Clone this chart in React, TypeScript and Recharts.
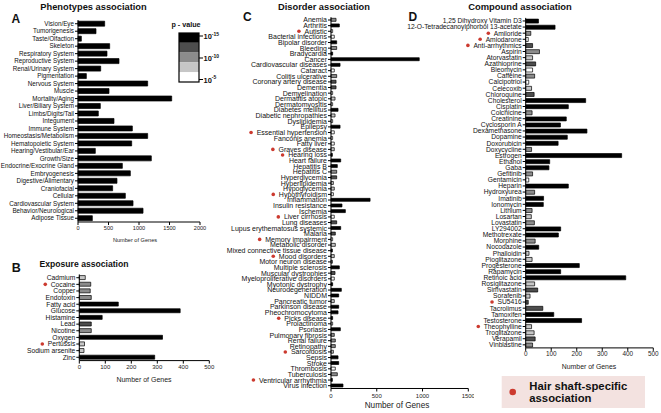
import React from 'react';
import { BarChart, Bar, XAxis, YAxis, Cell } from 'recharts';

// p-value bins: 0 = 1e-15 (black) ... 4 = 1e-5 (white)
const PALETTE = ['#000000', '#4d4d4d', '#8c8c8c', '#c6c6c6', '#ffffff'];
const DOT = '#cc3a2f';
const FONT = '"Liberation Sans", Arial, sans-serif';

const phenoNames = ['Vision/Eye', 'Tumorigenesis', 'Taste/Olfaction', 'Skeleton', 'Respiratory System', 'Reproductive System',
  'Renal/Urinary System', 'Pigmentation', 'Nervous System', 'Muscle', 'Mortality/Aging', 'Liver/Biliary System',
  'Limbs/Digits/Tail', 'Integument', 'Immune System', 'Homeostasis/Metabolism', 'Hematopoietic System',
  'Hearing/Vestibular/Ear', 'Growth/Size', 'Endocrine/Exocrine Gland', 'Embryogenesis', 'Digestive/Alimentary',
  'Craniofacial', 'Cellular', 'Cardiovascular System', 'Behavior/Neurological', 'Adipose Tissue'];
const phenoGenes = [437, 295, 55, 519, 475, 672, 372, 137, 1142, 508, 1536, 366, 333, 590, 891, 1142, 880, 284, 1202, 727, 858, 639, 568, 776, 902, 1066, 235];
const phenoLevels = phenoNames.map(() => 0);
const phenoTicks = [0, 500, 1000, 1500, 2000];

const expoNames = ['Cadmium', 'Cocaine', 'Copper', 'Endotoxin', 'Fatty acid', 'Glucose', 'Histamine', 'Lead', 'Nicotine',
  'Oxygen', 'Pertussis', 'Sodium arsenite', 'Zinc'];
const expoGenes = [23, 44, 42, 46, 150, 388, 88, 46, 46, 320, 20, 18, 290];
const expoLevels = [3, 2, 2, 2, 0, 0, 0, 1, 2, 0, 3, 3, 0];
const expoHair = ['Cocaine', 'Pertussis'];
const expoTicks = [0, 100, 200, 300, 400, 500];

const disNames = ['Anemia', 'Arthritis', 'Autistic', 'Bacterial infections', 'Bipolar disorder', 'Bleeding', 'Bradycardia',
  'Cancer', 'Cardiovascular diseases', 'Cataract', 'Colitis ulcerative', 'Coronary artery disease', 'Dementia',
  'Demyelination', 'Dermatitis atopic', 'Dermatomyositis', 'Diabetes mellitus', 'Diabetic nephropathies', 'Dyslipidemia',
  'Epilepsy', 'Essential hypertension', 'Fanconis anemia', 'Fatty liver', 'Graves disease', 'Hearing loss',
  'Heart failure', 'Hepatitis B', 'Hepatitis C', 'Hyperglycemia', 'Hyperlipidemia', 'Hypoglycemia', 'Hypothyroidism',
  'Inflammation', 'Insulin resistance', 'Ischemia', 'Liver cirrhosis', 'Lung diseases', 'Lupus erythematosus systemic',
  'Malaria', 'Memory impairment', 'Metabolic disorder', 'Mixed connective tissue disease', 'Mood disorders',
  'Motor neuron disease', 'Multiple sclerosis', 'Muscular dystrophies', 'Myeloproliferative disorders',
  'Myotonic dystrophy', 'Neurodegeneration', 'NIDDM', 'Pancreatic tumor', 'Parkinson disease', 'Pheochromocytoma',
  'Picks disease', 'Prolactinoma', 'Psoriasis', 'Pulmonary fibrosis', 'Renal failure', 'Retinopathy', 'Sarcoidosis',
  'Sepsis', 'Stroke', 'Thrombosis', 'Tuberculosis', 'Ventricular arrhythmia', 'Virus infection'];
const disGenes = [55, 91, 18, 36, 62, 62, 18, 964, 99, 36, 62, 55, 55, 18, 44, 18, 77, 44, 18, 99, 36, 18, 36, 36, 15,
  106, 69, 62, 62, 26, 36, 26, 427, 120, 157, 36, 62, 106, 47, 18, 47, 15, 36, 15, 91, 44, 36, 18, 113, 84, 36, 84, 77,
  18, 18, 102, 36, 47, 47, 26, 77, 84, 47, 69, 15, 131];
const disLevels = [2, 0, 4, 4, 0, 2, 0, 0, 0, 4, 2, 1, 1, 4, 3, 4, 0, 3, 4, 0, 4, 4, 4, 3, 0, 0, 0, 2, 1, 3, 3, 4, 0, 0,
  0, 4, 1, 0, 1, 4, 3, 0, 3, 2, 0, 1, 4, 0, 0, 0, 3, 0, 0, 0, 4, 0, 2, 2, 2, 3, 0, 0, 4, 2, 0, 0];
const disHair = ['Autistic', 'Essential hypertension', 'Graves disease', 'Hearing loss', 'Hypothyroidism', 'Liver cirrhosis',
  'Memory impairment', 'Mood disorders', 'Picks disease', 'Sarcoidosis', 'Ventricular arrhythmia'];
const disTicks = [0, 500, 1000, 1500];

const compNames = ['1,25 Dihydroxy Vitamin D3', '12-O-Tetradecanoylphorbol 13-acetate', 'Amiloride', 'Amiodarone',
  'Anti-arrhythmics', 'Aspirin', 'Atorvastatin', 'Azathioprine', 'Bleomycin', 'Caffeine', 'Calcipotriol', 'Celecoxib',
  'Chloroquine', 'Cholesterol', 'Cisplatin', 'Colchicine', 'Creatinine', 'Cyclosporin A', 'Dexamethasone', 'Dopamine',
  'Doxorubicin', 'Doxycycline', 'Estrogen', 'Ethanol', 'Gaba', 'Gefitinib', 'Gentamicin', 'Heparin', 'Hydroxyurea',
  'Imatinib', 'Ionomycin', 'Lithium', 'Losartan', 'Lovastatin', 'LY294002', 'Methotrexate', 'Morphine', 'Nocodazole',
  'Phalloidin', 'Pioglitazone', 'Progesterone', 'Rapamycin', 'Retinoic acid', 'Rosiglitazone', 'Simvastatin',
  'Sorafenib', 'SU5416', 'Tacrolimus', 'Tamoxifen', 'Testosterone', 'Theophylline', 'Troglitazone', 'Verapamil',
  'Vinblastine'];
const compGenes = [50, 115, 20, 10, 27, 54, 27, 39, 27, 35, 12, 23, 33, 235, 167, 25, 159, 136, 240, 163, 127, 23, 376,
  94, 91, 27, 12, 167, 35, 70, 69, 25, 22, 34, 137, 128, 37, 51, 13, 25, 210, 137, 392, 35, 47, 17, 10, 67, 110, 219,
  23, 33, 37, 27];
const compLevels = [0, 0, 2, 4, 1, 2, 3, 1, 4, 2, 4, 3, 1, 0, 0, 2, 0, 0, 0, 0, 0, 2, 0, 0, 0, 2, 4, 0, 2, 0, 0, 2, 3, 2,
  0, 0, 2, 0, 3, 3, 0, 0, 0, 3, 1, 3, 1, 1, 0, 0, 3, 3, 1, 2];
const compHair = ['Amiloride', 'Amiodarone', 'Anti-arrhythmics', 'SU5416', 'Theophylline'];
const compTicks = [0, 100, 200, 300, 400, 500];

let ctx: CanvasRenderingContext2D | null = null;
function textWidth(s: string, size: number) {
  if (!ctx) ctx = document.createElement('canvas').getContext('2d');
  if (!ctx) return s.length * size * 0.5;
  ctx.font = `${size}px "Liberation Sans"`;
  return ctx.measureText(s).width;
}

function CatTick({ x, y, payload, size, hair }: any) {
  const label = payload.value;
  const marked = hair && hair.includes(label);
  return (
    <g>
      <text x={x} y={y} dy="0.35em" textAnchor="end" fontSize={size} fill="#111" fontFamily={FONT}>{label}</text>
      {marked && <circle cx={x - textWidth(label, size) - 5.5} cy={y} r={1.8} fill={DOT} />}
    </g>
  );
}

function Panel(props: any) {
  const { left, top, width, height, margin, yWidth, xHeight, names, genes, levels, hair, max, ticks,
    labelSize, tickFont, tickGap, gap } = props;
  const data = names.map((name: string, i: number) => ({ name, genes: genes[i], level: levels[i] }));
  return (
    <div style={{ position: 'absolute', left, top }}>
      <BarChart width={width} height={height} layout="vertical" data={data} margin={margin} barCategoryGap={gap}>
        <XAxis type="number" domain={[0, max]} ticks={ticks} interval={0} height={xHeight} tickSize={3} tickMargin={tickGap}
          axisLine={{ stroke: '#000' }} tickLine={{ stroke: '#000' }}
          tick={{ fontSize: tickFont, fill: '#222', fontFamily: FONT }} />
        <YAxis type="category" dataKey="name" width={yWidth} interval={0} tickSize={3} tickMargin={1}
          axisLine={{ stroke: '#000' }} tickLine={{ stroke: '#000' }}
          tick={(p: any) => <CatTick {...p} size={labelSize} hair={hair} />} />
        <Bar dataKey="genes" isAnimationActive={false} stroke="#000" strokeWidth={0.7}>
          {data.map((d: any, i: number) => <Cell key={i} fill={PALETTE[d.level]} />)}
        </Bar>
      </BarChart>
    </div>
  );
}

export default function App() {
  return (
    <div style={{ position: 'absolute', left: 0, top: 0, width: 661, height: 413, background: '#fff', overflow: 'hidden' }}>
      <Panel left={0} top={0} width={210} height={240} margin={{ top: 20, right: 10, left: 0, bottom: 0 }}
        yWidth={78} xHeight={18} names={phenoNames} genes={phenoGenes} levels={phenoLevels} hair={[]}
        max={2000} ticks={phenoTicks} labelSize={6.3} tickFont={5.6} tickGap={1} gap="16%" />
      <Panel left={0} top={255} width={215} height={124} margin={{ top: 19.4, right: 5.7, left: 0, bottom: 0 }}
        yWidth={79.3} xHeight={18.4} names={expoNames} genes={expoGenes} levels={expoLevels} hair={expoHair}
        max={500} ticks={expoTicks} labelSize={6.7} tickFont={6} tickGap={1.5} gap="18%" />
      <Panel left={205} top={0} width={269.3} height={402.5} margin={{ top: 17.2, right: 6, left: 0, bottom: 0 }}
        yWidth={126} xHeight={14} names={disNames} genes={disGenes} levels={disLevels} hair={disHair}
        max={1500} ticks={disTicks} labelSize={7} tickFont={6} tickGap={2} gap="20%" />
      <Panel left={400} top={0} width={261} height={361.9} margin={{ top: 17.9, right: 7.7, left: 0, bottom: 0 }}
        yWidth={125.7} xHeight={14} names={compNames} genes={compGenes} levels={compLevels} hair={compHair}
        max={500} ticks={compTicks} labelSize={6.7} tickFont={6.4} tickGap={1} gap="20%" />

      <svg width={661} height={413} style={{ position: 'absolute', left: 0, top: 0, pointerEvents: 'none' }} fontFamily={FONT}>
        <g fontWeight="bold" fill="#111" dominantBaseline="central">
          <text x={11.5} y={19} fontSize={12}>A</text>
          <text x={11.7} y={267.5} fontSize={12.5}>B</text>
          <text x={243} y={16.5} fontSize={12}>C</text>
          <text x={408.5} y={16.5} fontSize={12}>D</text>
          <text x={93.5} y={7} fontSize={9.3} textAnchor="middle">Phenotypes association</text>
          <text x={84} y={264} fontSize={8.6} textAnchor="middle">Exposure association</text>
          <text x={324} y={6.5} fontSize={9.3} textAnchor="middle">Disorder association</text>
          <text x={520} y={6.5} fontSize={9.4} textAnchor="middle">Compound association</text>
          <text x={186} y={24} fontSize={7.2} textAnchor="middle">p - value</text>
        </g>
        <g fill="#222" textAnchor="middle" dominantBaseline="central">
          <text x={135} y={240} fontSize={5.6}>Number of Genes</text>
          <text x={144} y={379} fontSize={7}>Number of Genes</text>
          <text x={397} y={405} fontSize={8.2}>Number of Genes</text>
          <text x={589} y={366} fontSize={6.9}>Number of Genes</text>
        </g>

        {PALETTE.map((c, i) => (
          <rect key={i} x={179} y={33 + i * 9.8} width={20} height={9.8} fill={c} />
        ))}
        <rect x={179} y={33} width={20} height={49} fill="none" stroke="#000" strokeWidth={1.2} />
        {[[36, '-15'], [58, '-10'], [79.5, '-5']].map(([y, e]) => (
          <g key={String(e)}>
            <line x1={199} x2={203} y1={y as number} y2={y as number} stroke="#000" strokeWidth={1} />
            <text x={203.5} y={(y as number) + 3} fontSize={7.5} fontWeight="bold" fill="#111">
              10<tspan fontSize={5} dy={-3.5}>{e}</tspan>
            </text>
          </g>
        ))}

        <rect x={501.7} y={376} width={143.3} height={32} fill="#f3e2e0" />
        <circle cx={512.7} cy={392} r={3.3} fill={DOT} />
        <g fontWeight="bold" fontSize={11.3} fill="#111" dominantBaseline="central">
          <text x={529.3} y={385.7}>Hair shaft-specific</text>
          <text x={529.3} y={398}>association</text>
        </g>
      </svg>
    </div>
  );
}
